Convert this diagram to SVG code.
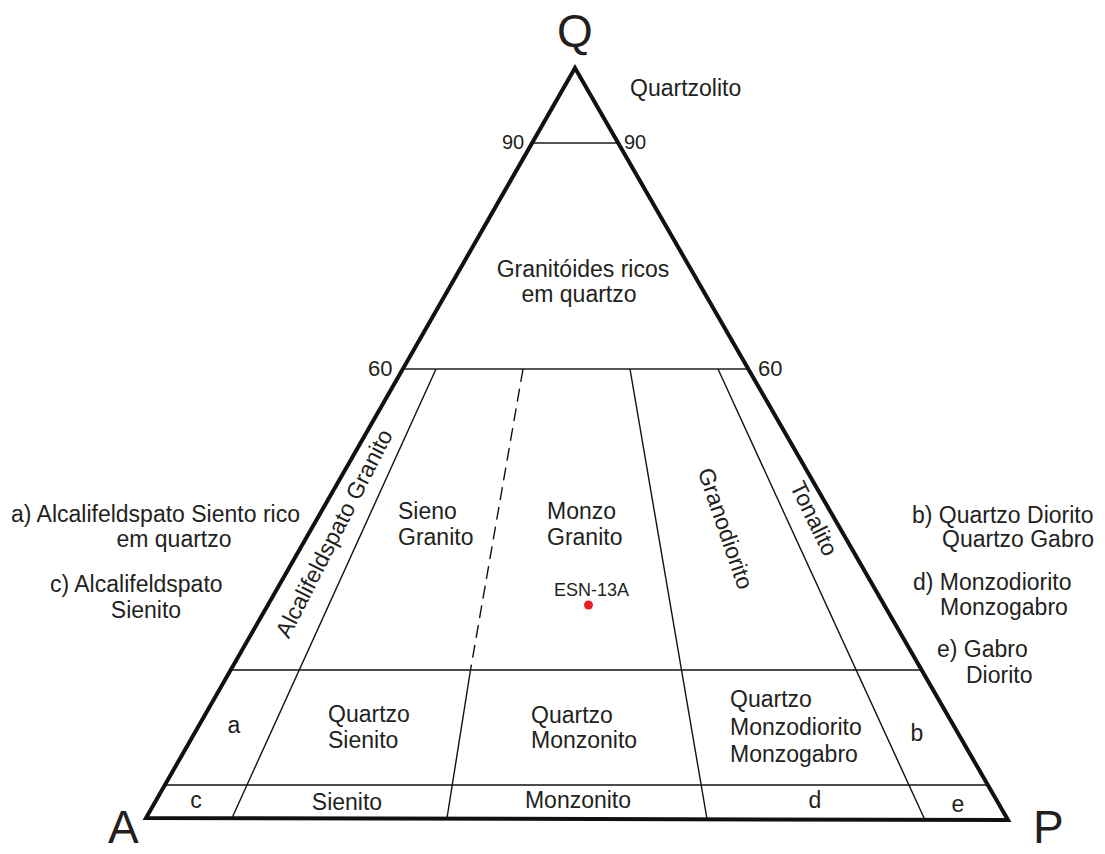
<svg xmlns="http://www.w3.org/2000/svg" width="1105" height="854" viewBox="0 0 1105 854">
  <style>
    .lbl { font-family: "Liberation Sans", Arial, sans-serif; font-size: 23px; fill: #231f20; }
    .num { font-family: "Liberation Sans", Arial, sans-serif; font-size: 20px; fill: #231f20; }
    .big { font-family: "Liberation Sans", Arial, sans-serif; font-size: 46px; fill: #231f20; }
    .mid { text-anchor: middle; }
    .thin { stroke: #111; stroke-width: 1.4; fill: none; }
    .grey { stroke: #555; stroke-width: 2; fill: none; }
  </style>
  <rect width="1105" height="854" fill="#ffffff"/>

  <g id="field-lines">
    <line class="grey" x1="532" y1="143" x2="618" y2="143"/>
    <line class="grey" x1="403" y1="369" x2="747" y2="369"/>
    <line class="thin" x1="231" y1="670" x2="920" y2="670"/>
    <line class="thin" x1="165" y1="785" x2="987" y2="785"/>
    <line class="thin" x1="436" y1="369" x2="232" y2="818"/>
    <line class="thin" x1="523" y1="369" x2="470.5" y2="670" stroke-dasharray="13 7"/>
    <line class="thin" x1="470.5" y1="670" x2="447" y2="818"/>
    <line class="thin" x1="630" y1="369" x2="707" y2="819"/>
    <line class="thin" x1="718" y1="369" x2="925" y2="820"/>
  </g>

  <g id="triangle">
    <polygon points="575,68 146,818 1008,820" fill="none" stroke="#111" stroke-width="4" stroke-linejoin="miter"/>
  </g>

  <g id="apex-labels">
    <text class="big mid" x="575" y="47">Q</text>
    <text class="big" x="108" y="843">A</text>
    <text class="big" x="1033" y="843">P</text>
  </g>

  <g id="scale-labels">
    <text class="num" x="502" y="149">90</text>
    <text class="num" x="624" y="149">90</text>
    <text class="num" x="368" y="376" style="font-size:22px">60</text>
    <text class="num" x="758" y="376" style="font-size:22px">60</text>
  </g>

  <g id="quartzolito"><text class="lbl" x="630" y="96">Quartzolito</text></g>

  <g id="granitoides">
    <text class="lbl mid" x="583" y="277">Granitóides ricos</text>
    <text class="lbl mid" x="579" y="302">em quartzo</text>
  </g>

  <g id="alcalifeldspato-granito">
    <text class="lbl mid" transform="translate(341,537) rotate(-63)">Alcalifeldspato Granito</text>
  </g>

  <g id="sieno-granito">
    <text class="lbl" x="398" y="519">Sieno</text>
    <text class="lbl" x="398" y="545">Granito</text>
  </g>

  <g id="monzo-granito">
    <text class="lbl" x="547" y="519">Monzo</text>
    <text class="lbl" x="547" y="545">Granito</text>
  </g>

  <g id="granodiorito">
    <text class="lbl mid" transform="translate(718,531) rotate(71)">Granodiorito</text>
  </g>

  <g id="tonalito">
    <text class="lbl mid" transform="translate(807,522) rotate(64)">Tonalito</text>
  </g>

  <g id="sample-esn-13a">
    <text class="lbl" x="554" y="596" style="font-size:18px">ESN-13A</text>
    <circle cx="588.5" cy="605" r="4.5" fill="#ee1c25"/>
  </g>

  <g id="field-a"><text class="lbl mid" x="234" y="733">a</text></g>
  <g id="quartzo-sienito">
    <text class="lbl" x="328" y="722">Quartzo</text>
    <text class="lbl" x="328" y="748">Sienito</text>
  </g>
  <g id="quartzo-monzonito">
    <text class="lbl" x="531" y="723">Quartzo</text>
    <text class="lbl" x="531" y="748">Monzonito</text>
  </g>
  <g id="quartzo-monzodiorito">
    <text class="lbl" x="730" y="707">Quartzo</text>
    <text class="lbl" x="730" y="735">Monzodiorito</text>
    <text class="lbl" x="730" y="762">Monzogabro</text>
  </g>
  <g id="field-b"><text class="lbl mid" x="917" y="741">b</text></g>

  <g id="field-c"><text class="lbl mid" x="196" y="808">c</text></g>
  <g id="sienito"><text class="lbl mid" x="347" y="810">Sienito</text></g>
  <g id="monzonito"><text class="lbl mid" x="578" y="808">Monzonito</text></g>
  <g id="field-d"><text class="lbl mid" x="815" y="808">d</text></g>
  <g id="field-e"><text class="lbl mid" x="958" y="812">e</text></g>

  <g id="legend-left">
    <text class="lbl" x="11" y="522">a) Alcalifeldspato Siento rico</text>
    <text class="lbl mid" x="174" y="547">em quartzo</text>
    <text class="lbl" x="50" y="592">c) Alcalifeldspato</text>
    <text class="lbl mid" x="146" y="618">Sienito</text>
  </g>

  <g id="legend-right">
    <text class="lbl" x="912" y="523">b) Quartzo Diorito</text>
    <text class="lbl" x="942" y="547">Quartzo Gabro</text>
    <text class="lbl" x="913" y="590">d) Monzodiorito</text>
    <text class="lbl" x="940" y="615">Monzogabro</text>
    <text class="lbl" x="937" y="657">e) Gabro</text>
    <text class="lbl" x="966" y="683">Diorito</text>
  </g>
</svg>
